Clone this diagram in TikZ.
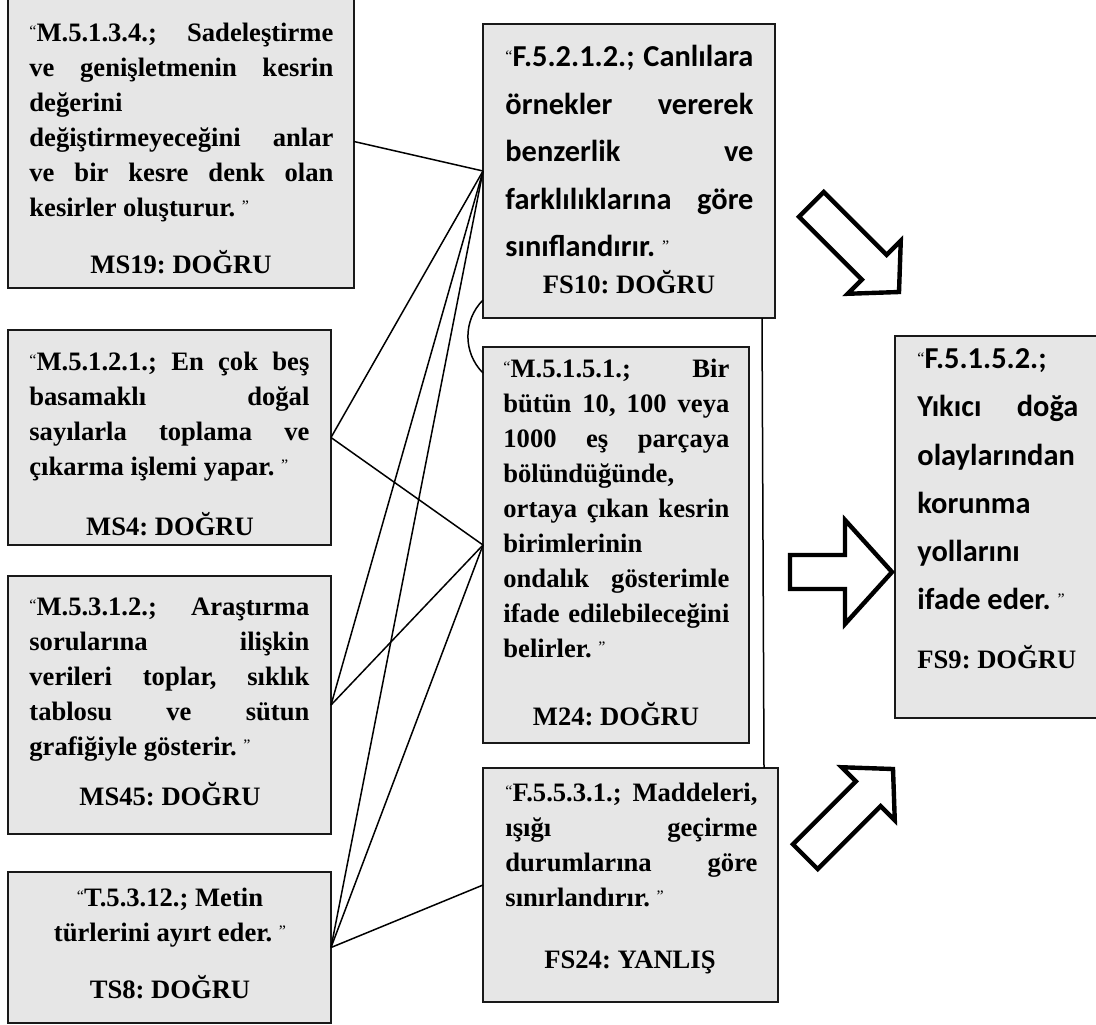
\documentclass[tikz,border=0pt]{standalone}
\usepackage{fontspec}
\setmainfont{Liberation Serif}
\newfontfamily\calfont{Carlito}
\usetikzlibrary{fit,calc}
\definecolor{boxgray}{HTML}{E6E6E6}
\frenchspacing
% small regular-weight quotation marks around each objective
\newcommand\oq{\raisebox{2.5pt}{\normalfont\fontsize{8}{8}\selectfont “}}
\newcommand\cq{\raisebox{2.5pt}{\normalfont\fontsize{8}{8}\selectfont ”}}
% a line stretched to the full justified width
\newcommand\jline[2]{\makebox[#1][s]{#2}}
\tikzset{
  box/.style={draw=black!90, line width=1pt, fill=boxgray, inner sep=0pt, outer sep=0pt},
  tnr/.style={anchor=north west, inner sep=0pt, align=left,
    font=\frenchspacing\fontsize{13.3}{17.5}\selectfont\bfseries},
  calt/.style={anchor=north west, inner sep=0pt, align=left,
    font=\frenchspacing\calfont\fontsize{15.2}{#1}\selectfont\bfseries},
  lbl/.style={anchor=base, inner sep=0pt, font=\frenchspacing\fontsize{13.3}{16}\selectfont\bfseries},
  link/.style={line width=0.75pt},
  hollow/.style={draw=black, line width=2.2pt, fill=white, line join=miter},
  pics/blockarrow/.style n args={4}{code={
    % tip at the origin, pointing along +x: length, head length, head half width, shaft half width
    \draw[hollow] (0,0) -- (-#2,#3) -- (-#2,#4) -- (-#1,#4) -- (-#1,-#4)
      -- (-#2,-#4) -- (-#2,-#3) -- cycle;
  }}
}
\begin{document}
\begin{tikzpicture}[x=0.5pt,y=-0.5pt]
\useasboundingbox (0,0) rectangle (1096,1024);
\clip (0,0) rectangle (1096,1024);

% frames
\node[box, fit={(8,-5) (354,288)}] (ms19) {};
\node[box, fit={(8,330) (331,545)}] (ms4) {};
\node[box, fit={(8,576) (331,834)}] (ms45) {};
\node[box, fit={(8,872) (331,1023)}] (ts8) {};
\node[box, fit={(483,24) (775,318)}] (fs10) {};
\node[box, fit={(483,347) (749,743)}] (m24) {};
\node[box, fit={(483,768) (778,1002)}] (fs24) {};
\node[box, fit={(895,336) (1110,718)}] (fs9) {};

% objective texts
\node[tnr] (ms19t) at (29,16.5) {\strut\jline{152pt}{\oq M.5.1.3.4.; Sadeleştirme}\\
  \jline{152pt}{ve genişletmenin kesrin}\\
  değerini\\
  \jline{152pt}{değiştirmeyeceğini anlar}\\
  \jline{152pt}{ve bir kesre denk olan}\\
  kesirler oluşturur. \cq};

\node[tnr] (ms4t) at (29,345.5) {\strut\jline{140pt}{\oq M.5.1.2.1.; En çok beş}\\
  \jline{140pt}{basamaklı doğal}\\
  \jline{140pt}{sayılarla toplama ve}\\
  çıkarma işlemi yapar. \cq};

\node[tnr] (ms45t) at (29,590.5) {\strut\jline{140pt}{\oq M.5.3.1.2.; Araştırma}\\
  \jline{140pt}{sorularına ilişkin}\\
  \jline{140pt}{verileri toplar, sıklık}\\
  \jline{140pt}{tablosu ve sütun}\\
  grafiğiyle gösterir. \cq};

\node[tnr, anchor=north, align=center] (ts8t) at (170,881.5) {\strut\oq T.5.3.12.; Metin\\
  türlerini ayırt eder. \cq};

\node[calt=23.75] (fs10t) at (505,33) {\strut\jline{124pt}{\oq F.5.2.1.2.; Canlılara}\\
  \jline{124pt}{örnekler vererek}\\
  \jline{124pt}{benzerlik ve}\\
  \jline{124pt}{farklılıklarına göre}\\
  sınıflandırır. \cq};

\node[tnr] (m24t) at (503,352.5) {\strut\jline{113pt}{\oq M.5.1.5.1.; Bir}\\
  \jline{113pt}{bütün 10, 100 veya}\\
  \jline{113pt}{1000 eş parçaya}\\
  bölündüğünde,\\
  \jline{113pt}{ortaya çıkan kesrin}\\
  birimlerinin\\
  \jline{113pt}{ondalık gösterimle}\\
  \jline{113pt}{ifade edilebileceğini}\\
  belirler. \cq};

\node[tnr] (fs24t) at (505,776.5) {\strut\jline{126pt}{\oq F.5.5.3.1.; Maddeleri,}\\
  \jline{126pt}{ışığı geçirme}\\
  \jline{126pt}{durumlarına göre}\\
  sınırlandırır. \cq};

\node[calt=24.1] (fs9t) at (917,334.5) {\strut\oq F.5.1.5.2.;\\
  \jline{80.5pt}{Yıkıcı doğa}\\
  olaylarından\\
  korunma\\
  yollarını\\
  ifade eder. \cq};

% results
\node[lbl] (ms19l) at (181,273.5) {MS19: DOĞRU};
\node[lbl] (ms4l) at (170,535.5) {MS4: DOĞRU};
\node[lbl] (ms45l) at (170,805) {MS45: DOĞRU};
\node[lbl] (ts8l) at (170,998.5) {TS8: DOĞRU};
\node[lbl] (fs10l) at (629,293.5) {FS10: DOĞRU};
\node[lbl] (m24l) at (616,725.5) {M24: DOĞRU};
\node[lbl] (fs24l) at (630,968.5) {FS24: YANLIŞ};
\node[lbl, anchor=base west] (fs9l) at (917,668.5) {FS9: DOĞRU};

% links between objectives
\draw[link] (ms19.east) -- (fs10.west);
\draw[link] (ms4.east) -- (fs10.west);
\draw[link] (ms4.east) -- (m24.west);
\draw[link] (ms45.east) -- (fs10.west);
\draw[link] (ms45.east) -- (m24.west);
\draw[link] (ts8.east) -- (fs10.west);
\draw[link] (ts8.east) -- (m24.west);
\draw[link] (ts8.east) -- (fs24.west);
\draw[link] ([xshift=-6.5pt]fs10.south east) -- ([xshift=-7pt]fs24.north east);
\draw[link] ([yshift=9pt]fs10.south west) to[out=225,in=135] ([yshift=-13pt]m24.north west);

% hollow block arrows towards the target objective
\pic[rotate=-45] (arrtop) at (899,292) {blockarrow={124}{35}{37.5}{17.5}};
\pic (arrmid) at (892,572) {blockarrow={102}{47}{52}{17}};
\pic[rotate=45] (arrbot) at (893,769) {blockarrow={124}{35}{37.5}{17.5}};
\end{tikzpicture}
\end{document}
